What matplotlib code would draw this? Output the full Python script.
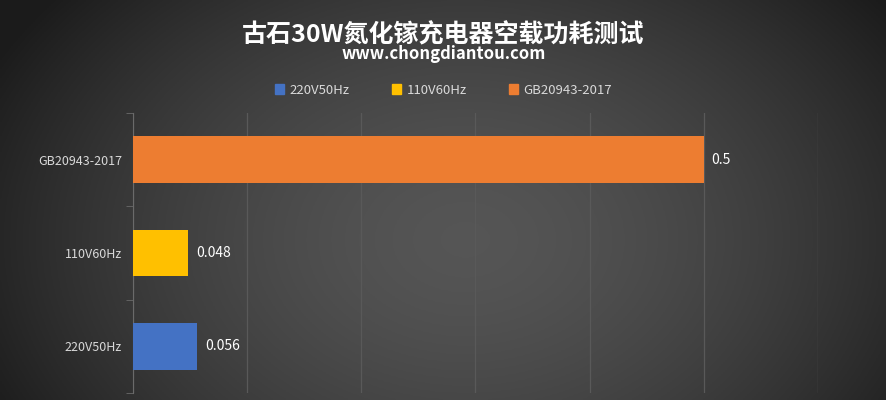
import numpy as np
import matplotlib.pyplot as plt
from matplotlib.patches import Patch

plt.rcParams['font.family'] = ['Noto Sans CJK SC', 'DejaVu Sans']

categories = ['220V50Hz', '110V60Hz', 'GB20943-2017']
values = [0.056, 0.048, 0.5]
labels = ['0.056', '0.048', '0.5']
colors = ['#4472C4', '#FFC000', '#ED7D31']
title = '古石30W氮化镓充电器空载功耗测试'
subtitle = 'www.chongdiantou.com'

fig = plt.figure(figsize=(8.87, 4.0), dpi=100)

# radial gradient background
bg = fig.add_axes([0, 0, 1, 1])
xx, yy = np.meshgrid(np.linspace(-1, 1, 400), np.linspace(-1, 1, 200))
r = np.sqrt(((xx - 0.05) / 1.0) ** 2 + ((yy + 0.2) / 1.6) ** 2)
shade = 0.335 - 0.17 * np.clip(r, 0, 1.2) ** 1.6
bg.imshow(np.dstack([shade] * 3), extent=[0, 1, 0, 1], aspect='auto', origin='lower')
bg.axis('off')

ax = fig.add_axes([0.150, 0.0175, 0.772, 0.70])
ax.set_facecolor('none')
y = np.arange(len(categories))
bars = ax.barh(y, values, height=0.5, color=colors, zorder=3)
for yi, v, lab in zip(y, values, labels):
    ax.text(v + 0.007, yi, lab, va='center', ha='left', color='white', fontsize=10)

ax.set_xlim(0, 0.6)
ax.set_ylim(-0.5, 2.5)
ax.set_xticks(np.arange(0, 0.61, 0.1))
ax.tick_params(axis='x', length=0, labelbottom=False)
ax.grid(axis='x', color='#595959', linewidth=0.9, zorder=0)
ax.set_yticks(y)
ax.set_yticklabels(categories, color='#d9d9d9', fontsize=9)
ax.tick_params(axis='y', length=0, pad=8)
ax.set_yticks([-0.5, 0.5, 1.5, 2.5], minor=True)
ax.tick_params(axis='y', which='minor', length=5, color='#6a6a6a')
for s in ['top', 'right', 'bottom']:
    ax.spines[s].set_visible(False)
ax.spines['left'].set_color('#6a6a6a')

fig.text(0.5, 0.913, title, ha='center', va='center', color='white',
         fontsize=18, fontweight='bold')
fig.text(0.5, 0.864, subtitle, ha='center', va='center', color='white',
         fontsize=12, fontweight='bold')

handles = [Patch(color=c, label=l) for c, l in zip(colors, categories)]
fig.legend(handles=handles, loc='center', bbox_to_anchor=(0.5, 0.775), ncol=3,
           frameon=False, fontsize=9.5, labelcolor='#d9d9d9', handlelength=0.7,
           handleheight=0.7, handletextpad=0.4, columnspacing=3.2)

fig.savefig('out.png', dpi=100)
